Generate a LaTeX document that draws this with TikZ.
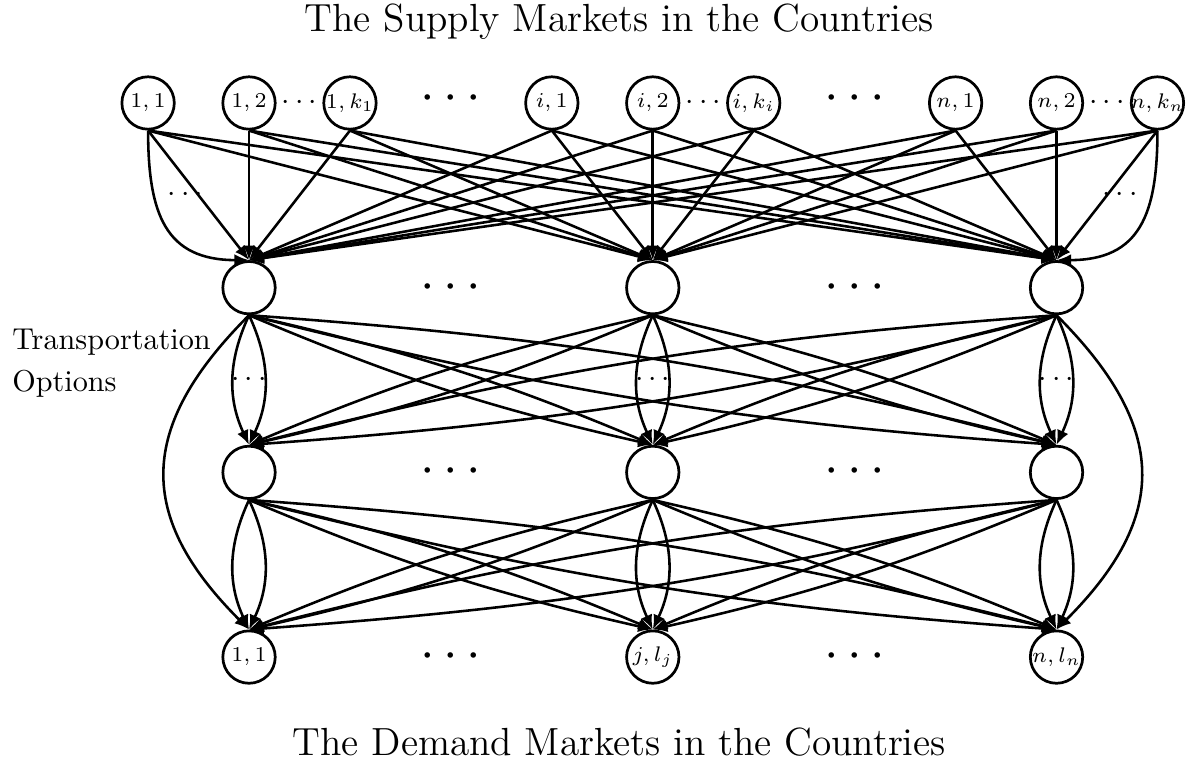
\documentclass[tikz,border=0pt]{standalone}
\usepackage{tikz}
\usetikzlibrary{arrows.meta}
\tikzset{
  >={Latex[length=1.7mm,width=1.4mm]},
  mkt/.style={circle,draw,line width=0.9pt,minimum size=6.1mm,inner sep=-1pt,font=\scriptsize},
  link/.style={->,line width=0.85pt},
  gap/.style={font=\LARGE,inner sep=0pt},
  fewdots/.style={inner sep=0pt},
  caption/.style={font=\fontsize{13}{16}\selectfont},
}

\begin{document}
\begin{tikzpicture}
    \useasboundingbox (-2.899,-7.858) rectangle (10.977,1.199);
    % supply markets
    \foreach \x/\lab [count=\i] in {-1.175/{1,1},0/{1,2},1.175/{1,k_1},3.525/{i,1},4.7/{i,2},5.875/{i,k_i},8.225/{n,1},9.4/{n,2},10.575/{n,k_n}}
      \node[mkt] (s\i) at (\x,0) {$\lab$};
    % transport layers and demand markets
    \foreach \c in {1,2,3} {
      \node[mkt] (a\c) at ({4.7*(\c-1)},-2.15) {};
      \node[mkt] (b\c) at ({4.7*(\c-1)},-4.3) {};
      \node[fewdots] (t\c) at ({4.7*(\c-1)+0.5875},0) {$\cdots$};
      \node[fewdots] (m\c) at ({4.7*(\c-1)},-3.225) {$\cdots$};
    }
    \foreach \lab [count=\c] in {{1,1},{j,l_j},{n,l_n}}
      \node[mkt] (d\c) at ({4.7*(\c-1)},-6.45) {$\lab$};
    \foreach \y [count=\r] in {0.05,-2.15,-4.3,-6.45} {
      \node[gap] (gl\r) at (2.35,\y) {$\cdots$};
      \node[gap] (gr\r) at (7.05,\y) {$\cdots$};
    }
    \foreach \i in {1,...,9}
      \foreach \c in {1,2,3}
        \draw[link] (s\i.south) -- (a\c.north);
    \draw[link] (s1.south) to[out=-90,in=180,looseness=1.3] (a1.north);
    \draw[link] (s9.south) to[out=-90,in=0,looseness=1.3] (a3.north);
    \node[fewdots] (ls) at (-0.74,-1.07) {$\cdots$};
    \node[fewdots] (rs) at (10.14,-1.07) {$\cdots$};
    \foreach \u/\l in {a/b,b/d}
      \foreach \p in {1,2,3}
        \foreach \q in {1,2,3} {
          \pgfmathsetmacro\bnd{ifthenelse(\p==\q,25,5)}
          \draw[link] (\u\p.south) to[bend left=\bnd] (\l\q.north);
          \draw[link] (\u\p.south) to[bend right=\bnd] (\l\q.north);
        }
    \draw[link] (a1.south) to[bend right=45,looseness=1.3] (d1.north);
    \draw[link] (a3.south) to[bend left=45,looseness=1.3] (d3.north);
    \node[caption] (sup) at (4.31,0.943) {The Supply Markets in the Countries};
    \node[caption] (dem) at (4.31,-7.44) {The Demand Markets in the Countries};
    \node[align=left,anchor=west,inner sep=0pt] (opt) at (-2.762,-3.03) {Transportation\\[2pt]Options};
\end{tikzpicture}
\end{document}
